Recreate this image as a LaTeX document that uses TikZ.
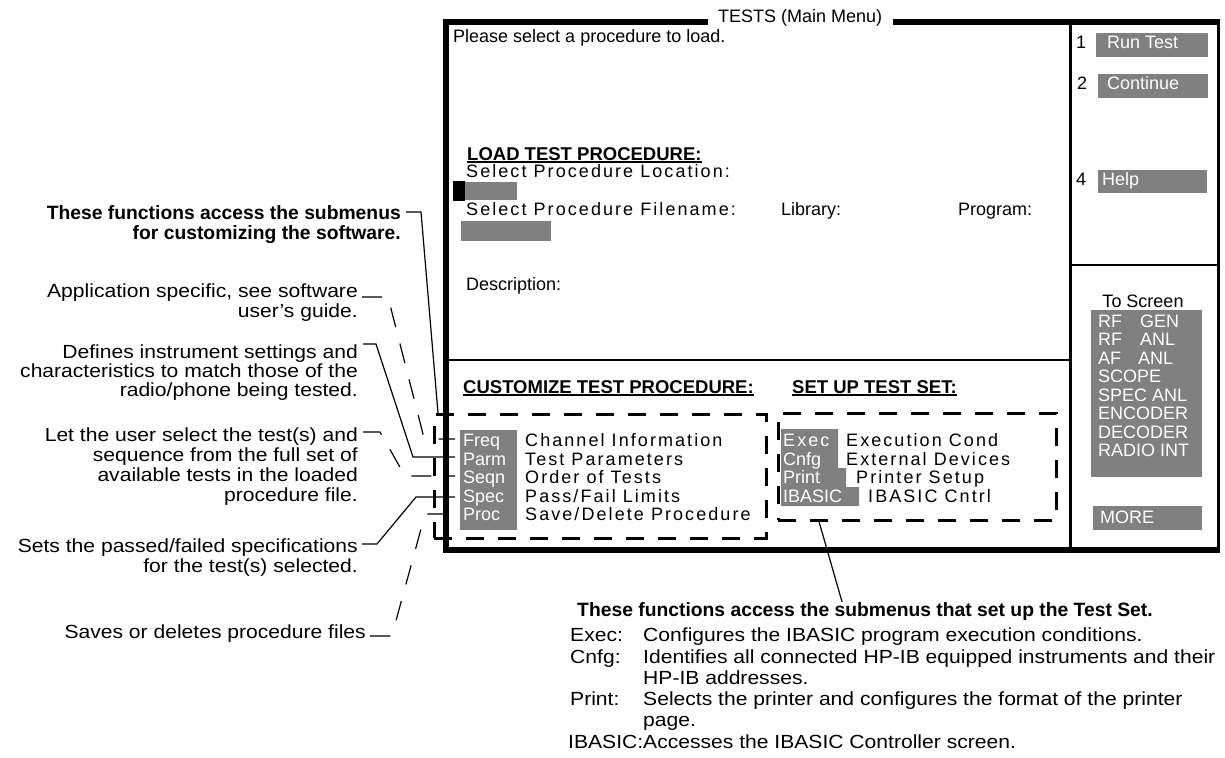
\documentclass[tikz,border=0pt]{standalone}
\usepackage{fontspec}
\setmainfont{Liberation Sans}
\newfontfamily\scrfont{Liberation Sans}
\newfontfamily\scrwide[LetterSpace=11.5]{Liberation Sans}
\newfontfamily\notefont[FakeStretch=1.11]{Liberation Sans}
\definecolor{keygray}{RGB}{128,128,128}

% type sizes (1pt in the picture = 1 output pixel)
\newcommand\scrtext{\scrfont\fontsize{18}{18.6}\selectfont}
\newcommand\scrspaced{\scrwide\fontsize{18}{18.6}\selectfont}
\newcommand\scrbold{\scrfont\bfseries\fontsize{18.5}{18.6}\selectfont}
\newcommand\notetext{\notefont\fontsize{19}{19.5}\selectfont}
\newcommand\notebold{\scrfont\bfseries\fontsize{19.3}{19.5}\selectfont}

\begin{document}
\begin{tikzpicture}[x=1pt,y=-1pt,
  lbl/.style={inner sep=0pt,anchor=base west},
  rlbl/.style={inner sep=0pt,anchor=base east},
  key/.style={fill=keygray,inner sep=0pt,anchor=north west},
  wkey/.style={lbl,font=\scrtext,text=white},
  frame/.style={line width=6pt},
  rule/.style={line width=3pt},
  thinrule/.style={line width=2pt},
  uline/.style={line width=1.4pt},
  dashbox/.style={draw,line width=2.5pt,dash pattern=on 18pt off 14pt,inner sep=0pt,anchor=north west},
  leader/.style={line width=1.2pt},
  dleader/.style={leader,dash pattern=on 20pt off 17pt}]

\useasboundingbox (0,0) rectangle (1225,757);

% ---------- screen frame ----------
\draw[frame,line join=miter] (708,22) -- (446,22) -- (446,550) -- (1220,550);
\draw[frame] (893,22) -- (1220,22);
\draw[rule] (1218,22) -- (1218,550);
\draw[rule] (1070,22) -- (1070,550);
\draw[thinrule] (1070,265) -- (1218,265);
\draw[thinrule] (446,360) -- (1070,360);
\node[lbl,font=\scrtext] (title) at (718,23) {TESTS (Main Menu)};

% ---------- softkeys ----------
\node[lbl,font=\scrtext] (n1) at (1076,49) {1};
\node[key,minimum width=112pt,minimum height=24pt] (k1) at (1096,33) {};
\node[wkey] (k1t) at (1107,49) {Run Test};
\node[lbl,font=\scrtext] (n2) at (1077,90) {2};
\node[key,minimum width=110pt,minimum height=24pt] (k2) at (1098,74) {};
\node[wkey] (k2t) at (1107,90) {Continue};
\node[lbl,font=\scrtext] (n4) at (1076,185) {4};
\node[key,minimum width=109pt,minimum height=23pt] (k4) at (1098,170) {};
\node[wkey] (k4t) at (1102,185) {Help};

\node[inner sep=0pt,anchor=base,font=\scrtext] (tohead) at (1143,307) {To Screen};
\node[key,minimum width=111pt,minimum height=167pt] (tobox) at (1091,310) {};
\foreach \item [count=\i from 0] in {{\makebox[42pt][l]{RF}GEN},{\makebox[42pt][l]{RF}ANL},
    {\makebox[40pt][l]{AF}ANL},SCOPE,SPEC ANL,ENCODER,DECODER,RADIO INT}
  \node[wkey] (to\i) at (1098,{327+18.57*\i}) {\item};
\node[key,minimum width=109pt,minimum height=24pt] (more) at (1093,506) {};
\node[wkey] (moret) at (1100,523) {MORE};

% ---------- upper screen ----------
\node[lbl,font=\scrtext] (msg) at (453,43) {Please select a procedure to load.};
\node[lbl,font=\scrbold] (loadhd) at (467,160) {LOAD TEST PROCEDURE:};
\draw[uline] ([yshift=-2pt]loadhd.base west) -- ([yshift=-2pt]loadhd.base east);
\node[lbl,font=\scrspaced] (locq) at (466,177) {Select Procedure Location:};
\node[fill=black,inner sep=0pt,anchor=north west,minimum width=12pt,minimum height=20pt] (cursor) at (453,181) {};
\node[key,minimum width=52pt,minimum height=18pt] (locfield) at (465,182) {};
\node[lbl,font=\scrspaced] (fileq) at (466,215) {Select Procedure Filename:};
\node[lbl,font=\scrtext] (lib) at (781,215) {Library:};
\node[lbl,font=\scrtext] (prog) at (958,215) {Program:};
\node[key,minimum width=90pt,minimum height=20pt] (filefield) at (461,221) {};
\node[lbl,font=\scrtext] (desc) at (466,290) {Description:};

% ---------- lower screen ----------
\node[lbl,font=\scrbold] (custhd) at (463,393) {CUSTOMIZE TEST PROCEDURE:};
\draw[uline] ([yshift=-2pt]custhd.base west) -- ([yshift=-2pt]custhd.base east);
\node[lbl,font=\scrbold] (sethd) at (792,393) {SET UP TEST SET:};
\draw[uline] ([yshift=-2pt]sethd.base west) -- ([yshift=-2pt]sethd.base east);

\node[dashbox,minimum width=332pt,minimum height=124pt] (custbox) at (433,413) {};
\node[dashbox,minimum width=278pt,minimum height=107pt] (setbox) at (777,412) {};

\node[key,minimum width=57pt,minimum height=100pt] (custkeys) at (460,430) {};
\node[wkey] (freq) at (463,446.5) {Freq};
\node[wkey] (parm) at (463,465.1) {Parm};
\node[wkey] (seqn) at (463,483.7) {Seqn};
\node[wkey] (spec) at (463,502.3) {Spec};
\node[wkey] (proc) at (463,520.9) {Proc};
\node[lbl,font=\scrspaced] (freqd) at (525,446.5) {Channel Information};
\node[lbl,font=\scrspaced] (parmd) at (525,465.1) {Test Parameters};
\node[lbl,font=\scrspaced] (seqnd) at (525,483.7) {Order of Tests};
\node[lbl,font=\scrspaced] (specd) at (525,502.3) {Pass/Fail Limits};
\node[lbl,font=\scrspaced] (procd) at (525,520.9) {Save/Delete Procedure};

\path[fill=keygray] (781,429) -- (838,429) -- (838,468) -- (846,468) -- (846,487)
  -- (859,487) -- (859,506) -- (781,506) -- cycle;
\node[lbl,font=\scrspaced,text=white] (exec) at (783,446.5) {Exec};
\node[wkey] (cnfg) at (783,465.1) {Cnfg};
\node[wkey] (print) at (783,483.7) {Print};
\node[wkey] (ibasic) at (783,502.3) {IBASIC};
\node[lbl,font=\scrspaced] (execd) at (846,446.5) {Execution Cond};
\node[lbl,font=\scrspaced] (cnfgd) at (846,465.1) {External Devices};
\node[lbl,font=\scrspaced] (printd) at (856,483.7) {Printer Setup};
\node[lbl,font=\scrspaced] (ibasicd) at (868,502.3) {IBASIC Cntrl};

% ---------- callouts on the left ----------
\node[rlbl,font=\notebold] (hd1) at (401,219) {These functions access the submenus};
\node[rlbl,font=\notebold] (hd2) at (401,239) {for customizing the software.};
\node[rlbl,font=\notetext] (app1) at (358,297) {Application specific, see software};
\node[rlbl,font=\notetext] (app2) at (358,317) {user’s guide.};
\node[rlbl,font=\notetext] (def1) at (358,358) {Defines instrument settings and};
\node[rlbl,font=\notetext] (def2) at (358,377) {characteristics to match those of the};
\node[rlbl,font=\notetext] (def3) at (358,396) {radio/phone being tested.};
\node[rlbl,font=\notetext] (sel1) at (358,441) {Let the user select the test(s) and};
\node[rlbl,font=\notetext] (sel2) at (358,461) {sequence from the full set of};
\node[rlbl,font=\notetext] (sel3) at (358,481) {available tests in the loaded};
\node[rlbl,font=\notetext] (sel4) at (358,501) {procedure file.};
\node[rlbl,font=\notetext] (spc1) at (358,552) {Sets the passed/failed specifications};
\node[rlbl,font=\notetext] (spc2) at (358,572) {for the test(s) selected.};
\node[rlbl,font=\notetext] (sav) at (366,638) {Saves or deletes procedure files};

\coordinate (freqin) at (455,439);
\coordinate (parmin) at (455,457);
\coordinate (seqnin) at (455,476);
\coordinate (specin) at (455,497);
\coordinate (procin) at (455,514);

\draw[leader] ([xshift=5pt,yshift=7pt]hd1.base east) -- (421,212) -- ([xshift=5pt]custbox.north west);
\draw[dleader] ([xshift=4pt]app1.base east) -- (388,297) -- (423,434) -- (428,439) -- (freqin);
\draw[leader] ([xshift=5pt,yshift=14pt]def1.base east) -- (376,344) -- (413,457) -- (parmin);
\draw[dleader] ([xshift=5pt,yshift=9pt]sel1.base east) -- (380,432) -- (405,476) -- (seqnin);
\draw[leader] ([xshift=4pt,yshift=8pt]spc1.base east) -- (377,544) -- (416,497) -- (specin);
\draw[dleader] ([xshift=4pt,yshift=2pt]sav.base east) -- (390,636) -- (394,628) -- (424,518) -- (428,514) -- (procin);

% ---------- note below the screen ----------
\node[lbl,font=\notebold] (setnote) at (577,616) {These functions access the submenus that set up the Test Set.};
\draw[leader] ([xshift=42pt]setbox.south west) -- ([xshift=265pt]setnote.north west);

\node[lbl,font=\notetext] (le) at (570,641) {Exec:};
\node[lbl,font=\notetext] (te) at (643,641) {Configures the IBASIC program execution conditions.};
\node[lbl,font=\notetext] (lc) at (570,663) {Cnfg:};
\node[lbl,font=\notetext] (tc1) at (643,663) {Identifies all connected HP-IB equipped instruments and their};
\node[lbl,font=\notetext] (tc2) at (643,684) {HP-IB addresses.};
\node[lbl,font=\notetext] (lp) at (570,705) {Print:};
\node[lbl,font=\notetext] (tp1) at (643,705) {Selects the printer and configures the format of the printer};
\node[lbl,font=\notetext] (tp2) at (643,726) {page.};
\node[lbl,font=\notetext] (li) at (568,748) {IBASIC:};
\node[lbl,font=\notetext] (ti) at (643,748) {Accesses the IBASIC Controller screen.};

\end{tikzpicture}
\end{document}
